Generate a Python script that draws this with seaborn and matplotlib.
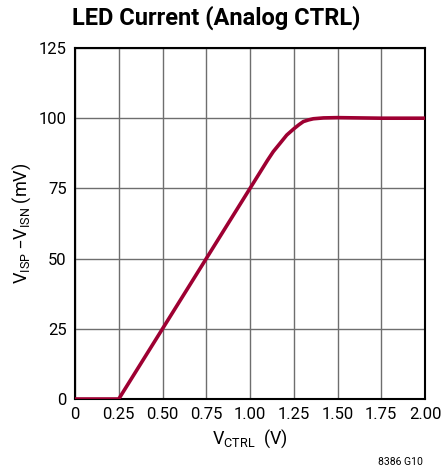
import matplotlib
matplotlib.use("Agg")
import matplotlib.pyplot as plt
import seaborn as sns
import pandas as pd

# Data
v_ctrl = [0.0, 0.25, 0.50, 0.75, 1.00, 1.10, 1.133, 1.171, 1.21, 1.25, 1.28, 1.305, 1.335, 1.362, 1.42, 1.50, 1.75, 2.00]
v_sense = [0.0, 0.0, 25.0, 50.0, 75.0, 85.0, 88.1, 91.0, 94.0, 96.2, 97.7, 98.8, 99.4, 99.8, 100.1, 100.2, 100.0, 100.0]
x_ticks = [0, 0.25, 0.50, 0.75, 1.00, 1.25, 1.50, 1.75, 2.00]
x_tick_labels = ["0", "0.25", "0.50", "0.75", "1.00", "1.25", "1.50", "1.75", "2.00"]
y_ticks = [0, 25, 50, 75, 100, 125]

sns.set_theme(style="white")
plt.rcParams['font.family'] = ['Liberation Sans Narrow', 'Roboto', 'DejaVu Sans']
plt.rcParams['mathtext.default'] = 'regular'

df = pd.DataFrame({"x": v_ctrl, "y": v_sense})

fig = plt.figure(figsize=(4.43, 4.72), dpi=100)
ax = fig.add_axes([75/443, 1-399/472, 350/443, 351/472])

sns.lineplot(data=df, x="x", y="y", ax=ax, color="#9e0032", linewidth=2.6, zorder=3)

ax.set_xlim(0, 2)
ax.set_ylim(0, 125)
ax.set_xticks(x_ticks)
ax.set_xticklabels(x_tick_labels)
ax.set_yticks(y_ticks)
ax.grid(True, color="#6e6e6e", linewidth=1.0)
ax.set_axisbelow(True)
for s in ax.spines.values():
    s.set_color("black")
    s.set_linewidth(1.5)
ax.tick_params(axis="both", length=0, labelsize=12, colors="black", pad=6)

ax.set_xlabel(r"$V_{CTRL}$  (V)", fontsize=13, color="black", labelpad=4)
ax.set_ylabel(r"$V_{ISP}$ –$V_{ISN}$ (mV)", fontsize=13, color="black", labelpad=4)

fig.text(72/443, 1-18/472, "LED Current (Analog CTRL)", fontsize=17, fontweight="bold",
         ha="left", va="center", color="black")
fig.text(400/443, 1-462/472, "8386 G10", fontsize=7.5, ha="center", va="center", color="black")

fig.savefig("out.png", dpi=100)
